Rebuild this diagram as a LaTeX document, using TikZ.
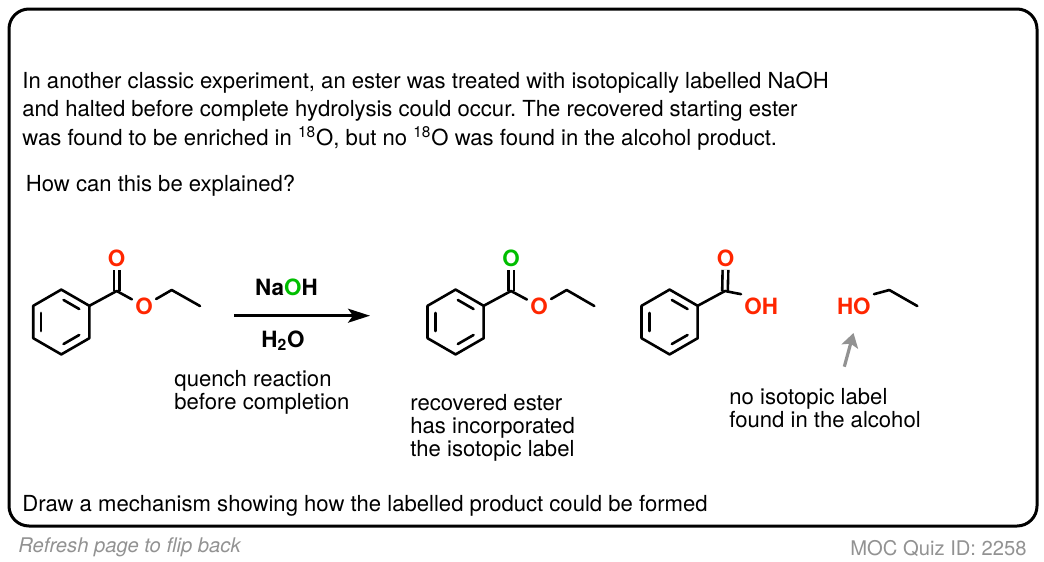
\documentclass[tikz,border=0pt]{standalone}
\usepackage{fontspec}
\setmainfont{TeX Gyre Heros}
\usepackage{xcolor}
\usetikzlibrary{positioning, calc, arrows.meta}

\definecolor{atomred}{RGB}{255,38,0}
\definecolor{atomgreen}{RGB}{0,190,0}
\definecolor{notegray}{RGB}{146,146,146}

\tikzset{
    bond/.style={line width=1.3pt, line cap=round, line join=round},
    dbond/.style={bond, double, double distance=1.5pt, line cap=butt},
    atom/.style={font=\fontsize{11.2}{13}\selectfont\bfseries, text=atomred, inner sep=1.5pt},
    reagent/.style={font=\fontsize{11.2}{13}\selectfont\bfseries, inner sep=0pt, anchor=base},
    note/.style={align=left, anchor=north west, inner sep=0pt, font=\fontsize{11.05}{11.6}\selectfont\frenchspacing},
    faint/.style={text=notegray, inner sep=0pt},
}

% ring with its centre at x = #2, named #1 1..6
\newcommand{\phenyl}[2]{
    \coordinate (#1c) at (#2, 322);
    \foreach \i in {1,...,6} {
        \coordinate (#1\i) at ($(#1c)+(60*\i-30:32.4)$);
    }
    \draw[bond] (#11) -- (#12) -- (#13) -- (#14) -- (#15) -- (#16) -- cycle;
    \draw[bond, shorten >=1.3pt, shorten <=1.3pt] ($(#1c)!0.72!(#15)$) -- ($(#1c)!0.72!(#16)$);
    \draw[bond, shorten >=1.3pt, shorten <=1.3pt] ($(#1c)!0.72!(#13)$) -- ($(#1c)!0.72!(#14)$);
    \draw[bond, shorten >=1.3pt, shorten <=1.3pt] ($(#1c)!0.72!(#11)$) -- ($(#1c)!0.72!(#12)$);
}

\begin{document}
\begin{tikzpicture}[x=0.5pt, y=-0.5pt]
    \useasboundingbox (0, 0) rectangle (1044, 562);

    \node[draw, line width=1.5pt, rounded corners=10pt, minimum width=514pt, minimum height=258.5pt, inner sep=0pt] (frame) at (523, 267.5) {};

    \node[note] (intro) at (22, 72) {In another classic experiment, an ester was treated with isotopically labelled NaOH\\[2.4pt]
        and halted before complete hydrolysis could occur. The recovered starting ester\\[1.4pt]
        was found to be enriched in \textsuperscript{18}O, but no \textsuperscript{18}O was found in the alcohol product.};
    \node[note] (question) at (25.5, 174.5) {How can this be explained?};
    \node[note] (quench) at (174, 370) {quench reaction\\before completion};
    \node[note] (recovered) at (410, 394) {recovered ester\\has incorporated\\the isotopic label};
    \node[note] (nolabel) at (729, 388) {no isotopic label\\found in the alcohol};
    \node[note] (task) at (22, 495) {Draw a mechanism showing how the labelled product could be formed};

    \node[faint, anchor=base west, font=\fontsize{10.1}{12}\selectfont\itshape] (refresh) at (18, 552) {Refresh page to flip back};
    \node[faint, anchor=base east, font=\fontsize{10.1}{12}\selectfont] (quizid) at (1027, 555) {MOC Quiz ID: 2258};

    % starting ester
    \phenyl{a}{61.3}
    \coordinate (aC) at (116.7, 291);
    \coordinate (aCH2) at (171.7, 290);
    \coordinate (aCH3) at (200, 306);
    \node[atom] (aOtop) at (116.7, 258) {O};
    \node[atom] (aO) at (144, 306) {O};
    \draw[dbond] (aC) -- (aOtop);
    \draw[bond] (a6) -- (aC) -- (aO);
    \draw[bond] (aO) -- (aCH2) -- (aCH3);

    % reagents and reaction arrow
    \node[reagent] (naoh) at (286.5, 295) {Na\textcolor{atomgreen}{O}H};
    \node[reagent] (water) at (283, 347) {H\textsubscript{2}O};
    \coordinate (arrowstart) at (234, 315.7);
    \coordinate (arrowend) at (370, 315.7);
    \draw[-{Stealth[length=11pt, width=7pt, inset=2.5pt]}, line width=1.3pt] (arrowstart) -- (arrowend);

    % labelled ester
    \phenyl{b}{455.6}
    \coordinate (bC) at (511, 291);
    \coordinate (bCH2) at (566.7, 290);
    \coordinate (bCH3) at (594.3, 306);
    \node[atom, text=atomgreen] (bOtop) at (511, 258) {O};
    \node[atom] (bO) at (539, 306) {O};
    \draw[dbond] (bC) -- (bOtop);
    \draw[bond] (b6) -- (bC) -- (bO);
    \draw[bond] (bO) -- (bCH2) -- (bCH3);

    % acid
    \phenyl{c}{669.6}
    \coordinate (cC) at (725, 291);
    \node[atom] (cOtop) at (725.7, 258) {O};
    \node[atom, anchor=west] (cOH) at (741, 306) {OH};
    \draw[dbond] (cC) -- (cOtop);
    \draw[bond] (c6) -- (cC) -- (cOH.north west);

    % alcohol
    \coordinate (dCH2) at (889.3, 290);
    \coordinate (dCH3) at (917.3, 306);
    \node[atom, anchor=east] (dHO) at (874, 306) {HO};
    \draw[bond] (dHO.north east) -- (dCH2) -- (dCH3);

    % pointer to the alcohol
    \coordinate (ptrstart) at (844.3, 366.7);
    \coordinate (ptrend) at (853.5, 333);
    \draw[-{Stealth[length=7pt, width=8.5pt, inset=1.5pt]}, line width=1.6pt, draw=notegray] (ptrstart) -- (ptrend);
\end{tikzpicture}
\end{document}
